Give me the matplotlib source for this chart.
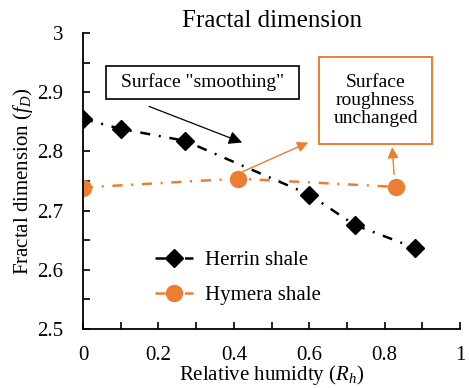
import matplotlib.pyplot as plt
from matplotlib.patches import Rectangle
from matplotlib.ticker import MultipleLocator

plt.rcParams["font.family"] = ["Liberation Serif", "DejaVu Serif"]
plt.rcParams["mathtext.fontset"] = "custom"
plt.rcParams["mathtext.it"] = "Liberation Serif:italic"
plt.rcParams["mathtext.rm"] = "Liberation Serif"

# fractal dimension vs relative humidity
herrin_rh = [0.0, 0.10, 0.27, 0.60, 0.72, 0.88]
herrin_fd = [2.855, 2.838, 2.818, 2.727, 2.676, 2.637]
hymera_rh = [0.0, 0.41, 0.83]
hymera_fd = [2.739, 2.754, 2.740]

ORANGE = "#ED7D31"
DASHDOT = (0, (4, 3.5, 0.8, 3.5))

fig = plt.figure(figsize=(4.69, 3.88), dpi=100)
ax = fig.add_axes([0.177, 0.152, 0.804, 0.763])

ax.plot(hymera_rh, hymera_fd, color=ORANGE, ls=DASHDOT, lw=1.8,
        marker="o", ms=11.5, label="Hymera shale", zorder=2)
ax.plot(herrin_rh, herrin_fd, color="black", ls=DASHDOT, lw=1.8,
        marker="D", ms=9, label="Herrin shale", zorder=3)

ax.set_xlim(0, 1)
ax.set_ylim(2.5, 3.0)
ax.xaxis.set_major_locator(MultipleLocator(0.2))
ax.xaxis.set_minor_locator(MultipleLocator(0.1))
ax.yaxis.set_major_locator(MultipleLocator(0.1))
ax.yaxis.set_minor_locator(MultipleLocator(0.05))
ax.xaxis.set_major_formatter(lambda v, p: f"{v:g}")
ax.yaxis.set_major_formatter(lambda v, p: f"{v:g}")
ax.tick_params(which="both", direction="in", length=5, width=1.2, labelsize=15)
ax.tick_params(axis="x", pad=12)
ax.tick_params(axis="y", pad=14)
for s in ("top", "right"):
    ax.spines[s].set_visible(False)
for s in ("left", "bottom"):
    ax.spines[s].set_linewidth(1.3)

ax.set_title("Fractal dimension", fontsize=18, pad=4)
ax.set_xlabel("Relative humidty ($R_h$)", fontsize=15, labelpad=-1)
ax.set_ylabel("Fractal dimension ($f_D$)", fontsize=15, labelpad=2)

# "smoothing" callout
ax.add_patch(Rectangle((0.061, 0.777), 0.512, 0.112, transform=ax.transAxes,
                       fc="white", ec="black", lw=1.2, zorder=4))
ax.text(0.317, 0.833, 'Surface "smoothing"', transform=ax.transAxes,
        ha="center", va="center", fontsize=14, zorder=5)
ax.annotate("", xy=(0.422, 2.815), xytext=(0.175, 2.876),
            arrowprops=dict(arrowstyle="-|>", color="black", lw=0.9,
                            mutation_scale=20, shrinkA=0, shrinkB=0))

# "unchanged" callout
ax.add_patch(Rectangle((0.626, 0.625), 0.300, 0.294, transform=ax.transAxes,
                       fc="white", ec=ORANGE, lw=1.4, zorder=4))
ax.text(0.776, 0.772, "Surface\nroughness\nunchanged", transform=ax.transAxes,
        ha="center", va="center", fontsize=14, linespacing=1.1, zorder=5)
ax.annotate("", xy=(0.597, 2.815), xytext=(0.424, 2.766),
            arrowprops=dict(arrowstyle="-|>", color=ORANGE, lw=1.0,
                            mutation_scale=16, shrinkA=0, shrinkB=0))
ax.annotate("", xy=(0.820, 2.807), xytext=(0.825, 2.761),
            arrowprops=dict(arrowstyle="-|>", color=ORANGE, lw=1.0,
                            mutation_scale=16, shrinkA=0, shrinkB=0))

handles, labels = ax.get_legend_handles_labels()
ax.legend(handles[::-1], labels[::-1], loc="center left",
          bbox_to_anchor=(0.17, 0.173), frameon=False, fontsize=15,
          handlelength=1.8, handletextpad=0.6, labelspacing=0.75,
          borderaxespad=0.0)

fig.savefig("out.png", dpi=100)
